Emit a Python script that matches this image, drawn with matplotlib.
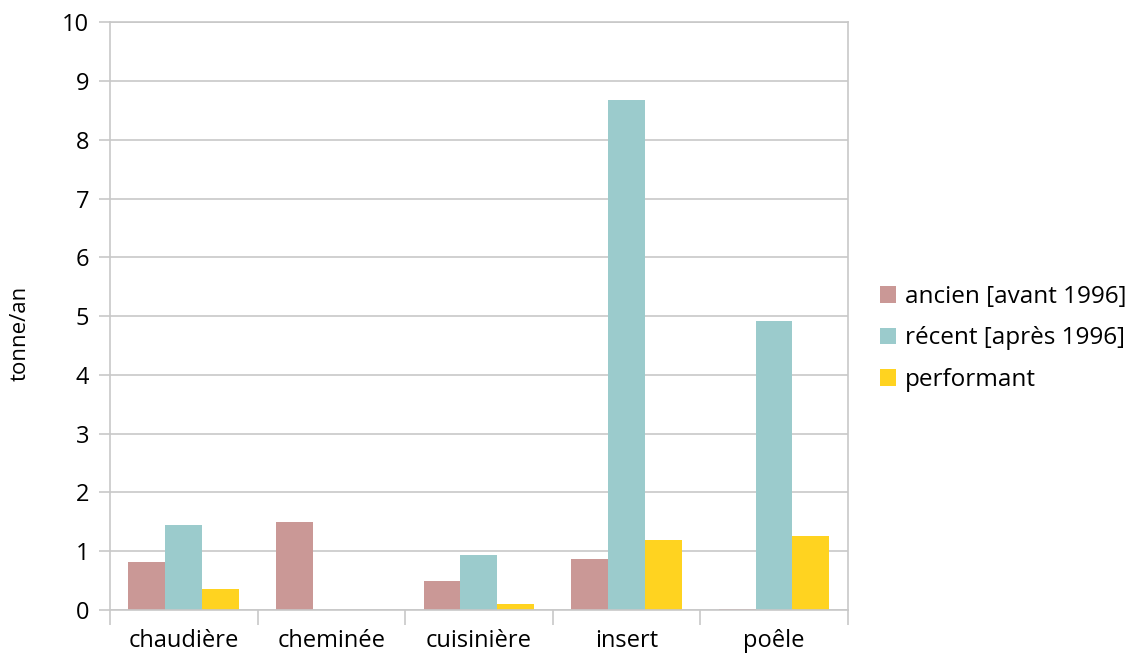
import numpy as np
import matplotlib.pyplot as plt

plt.rcParams['font.family'] = ['Open Sans', 'DejaVu Sans']

categories = ["chaudière", "cheminée", "cuisinière", "insert", "poêle"]
ancien = [0.82, 1.50, 0.49, 0.87, 0.01]
recent = [1.45, 0.0, 0.94, 8.68, 4.92]
performant = [0.36, 0.0, 0.10, 1.19, 1.26]
series = ["ancien [avant 1996]", "récent [après 1996]", "performant"]
colors = ["#CA9896", "#9BCBCC", "#FFD320"]

fig = plt.figure(figsize=(11.41, 6.55), dpi=100)
ax = fig.add_axes([0.0964, 0.0687, 0.6466, 0.8973])

x = np.arange(len(categories))
w = 0.25
for i, (vals, lab, c) in enumerate(zip([ancien, recent, performant], series, colors)):
    ax.bar(x + (i - 1) * w, vals, w, color=c, label=lab, zorder=2)

ax.set_xlim(-0.5, len(categories) - 0.5)
ax.set_ylim(0, 10)
ax.set_yticks(range(0, 11))
ax.yaxis.grid(True, color="#c8c8c8", linewidth=1.2, zorder=0)
ax.tick_params(axis='y', length=8, color="#c8c8c8", width=1.2, labelsize=17, pad=7)

ax.set_xticks(np.arange(-0.5, len(categories)), [])
ax.set_xticks(x, categories, minor=True)
ax.tick_params(axis='x', which='major', length=11, color="#c8c8c8", width=1.2)
ax.tick_params(axis='x', which='minor', length=0, labelsize=17, pad=14)

for s in ["left", "bottom", "right", "top"]:
    ax.spines[s].set_color("#c8c8c8")
    ax.spines[s].set_linewidth(1.2)

ax.set_ylabel("tonne/an", fontsize=16)
ax.yaxis.set_label_coords(-0.108, 0.47)

ax.legend(loc="center left", bbox_to_anchor=(1.03, 0.462), frameon=False, fontsize=17.5,
          handlelength=0.68, handleheight=0.68, handletextpad=0.35, labelspacing=0.72,
          borderaxespad=0)

fig.savefig("out.png", dpi=100)
